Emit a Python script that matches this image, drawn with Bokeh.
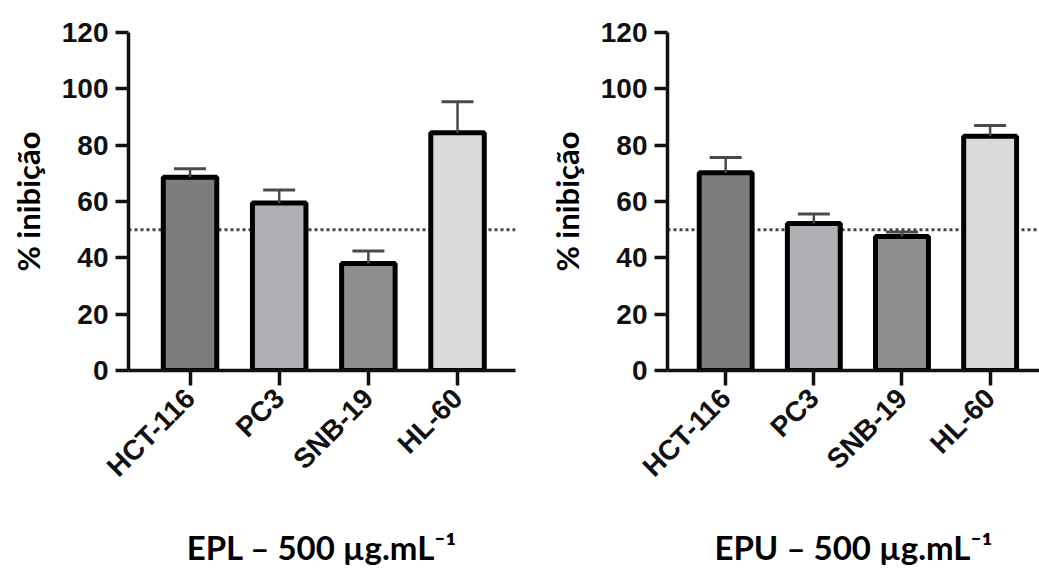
from math import pi

from bokeh.embed import file_html
from bokeh.resources import INLINE
from bokeh.layouts import row
from bokeh.models import (ColumnDataSource, Range1d, FixedTicker, Whisker,
                          TeeHead, Span)
from bokeh.plotting import figure

# Cell lines and % inhibition (mean and upper error) at 500 µg/mL
cell_lines = ["HCT-116", "PC3", "SNB-19", "HL-60"]
bar_colors = ["#7c7c7c", "#afafb4", "#8f8f8f", "#d9d9d9"]

epl_mean = [68.6, 59.5, 38.0, 84.4]
epl_err = [3.0, 4.6, 4.4, 11.0]

epu_mean = [70.2, 52.2, 47.6, 83.2]
epu_err = [5.4, 3.4, 1.6, 3.8]

y_ticks = [0, 20, 40, 60, 80, 100, 120]
threshold = 50

TICK_FONT = "Liberation Sans"
TITLE_FONT = "Lato"


def panel(means, errs, title, width, border_left, border_right, border_top,
          border_bottom, x_start, x_end):
    xs = list(range(len(cell_lines)))
    src = ColumnDataSource(dict(
        x=xs,
        top=means,
        upper=[m + e for m, e in zip(means, errs)],
        color=bar_colors,
    ))
    p = figure(width=width, height=584, output_backend="svg",
               toolbar_location=None,
               x_range=Range1d(x_start, x_end), y_range=Range1d(0, 120),
               min_border_left=border_left, min_border_right=border_right,
               min_border_top=border_top, min_border_bottom=border_bottom)
    p.outline_line_color = None
    p.grid.visible = False
    p.background_fill_color = "white"
    p.border_fill_color = "white"

    # dotted 50 % reference line, behind the bars
    p.add_layout(Span(location=threshold, dimension="width",
                      line_color="#444444", line_width=3,
                      line_dash="3 3", level="underlay"))

    # error bars (upper only)
    p.add_layout(Whisker(source=src, base="x", upper="upper", lower="top",
                         dimension="height", line_color="#4a4a4a",
                         line_width=2.5,
                         upper_head=TeeHead(size=32, line_color="#4a4a4a",
                                            line_width=3),
                         lower_head=None, level="glyph"))

    p.vbar(x="x", top="top", bottom=0, width=0.6, source=src,
           fill_color="color", line_color="black", line_width=5)

    for ax in (p.xaxis[0], p.yaxis[0]):
        ax.axis_line_width = 3.5
        ax.axis_line_color = "#111111"
        ax.major_tick_line_width = 3.5
        ax.major_tick_line_color = "#111111"
        ax.minor_tick_line_color = None
        ax.major_label_text_font = TICK_FONT
        ax.major_label_text_font_style = "bold"
        ax.major_label_text_font_size = "28px"
        ax.major_label_text_color = "#111111"
        ax.axis_label_text_font = TITLE_FONT
        ax.axis_label_text_font_style = "bold"
        ax.axis_label_text_font_size = "31px"
        ax.axis_label_text_color = "black"

    p.yaxis.ticker = FixedTicker(ticks=y_ticks)
    p.yaxis.major_tick_out = 13
    p.yaxis.major_tick_in = 0
    p.yaxis.major_label_standoff = 7
    p.yaxis.axis_label = "% inibição"
    p.yaxis.axis_label_standoff = 12

    p.xaxis.ticker = FixedTicker(ticks=xs)
    p.xaxis.major_label_overrides = {i: name for i, name in zip(xs, cell_lines)}
    p.xaxis.major_label_orientation = pi / 4
    p.xaxis.major_label_text_font_size = "28px"
    p.xaxis.major_tick_out = 15
    p.xaxis.major_tick_in = 0
    p.xaxis.major_label_standoff = 8
    p.xaxis.axis_label = title
    p.xaxis.axis_label_text_font_size = "33px"
    p.xaxis.axis_label_standoff = 30
    return p


left = panel(epl_mean, epl_err, "EPL – 500 µg.mL⁻¹", 520,
             128, 5, 24, 214, -0.69, 3.65)
right = panel(epu_mean, epu_err, "EPU – 500 µg.mL⁻¹", 519,
              147, 0, 32, 211, -0.66, 3.56)

layout = row(left, right)
open("out.html", "w").write(file_html(layout, INLINE))
